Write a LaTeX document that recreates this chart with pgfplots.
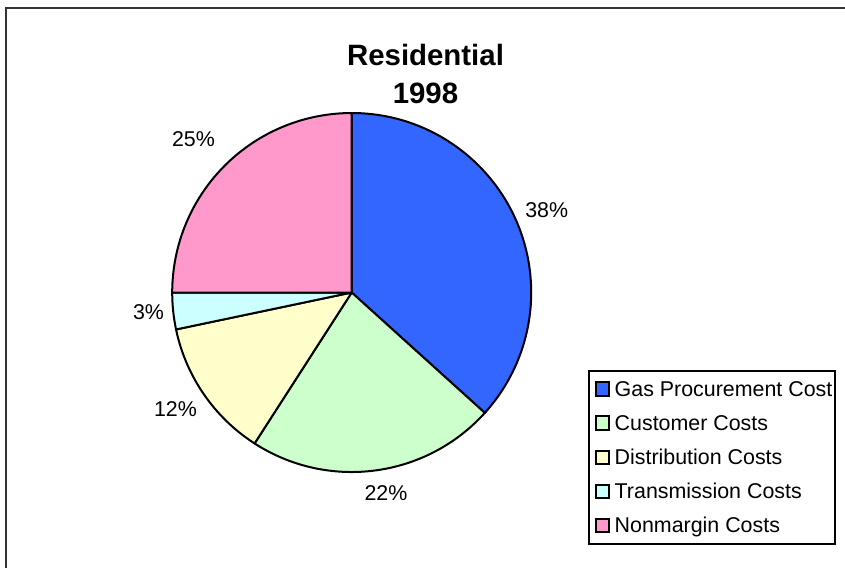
\documentclass[border=0pt]{standalone}
\usepackage{pgfplots}
\pgfplotsset{compat=1.18}
\usepackage{pgfplotstable}
\usepackage{fontspec}
\setmainfont{Liberation Sans}

\definecolor{cGas}{HTML}{3366FF}
\definecolor{cCust}{HTML}{CCFFCC}
\definecolor{cDist}{HTML}{FFFFCC}
\definecolor{cTran}{HTML}{CCFFFF}
\definecolor{cNonm}{HTML}{FF99CC}

% share of the pie as drawn (percent), and the printed label
\pgfplotstableread{
share label
36.7 38
22.4 22
12.6 12
3.3 3
25.0 25
}\piedata

\pgfplotstablegetelem{0}{share}\of\piedata \let\sA\pgfplotsretval
\pgfplotstablegetelem{1}{share}\of\piedata \let\sB\pgfplotsretval
\pgfplotstablegetelem{2}{share}\of\piedata \let\sC\pgfplotsretval
\pgfplotstablegetelem{3}{share}\of\piedata \let\sD\pgfplotsretval
\pgfplotstablegetelem{4}{share}\of\piedata \let\sE\pgfplotsretval
\pgfplotstablegetelem{0}{label}\of\piedata \let\lA\pgfplotsretval
\pgfplotstablegetelem{1}{label}\of\piedata \let\lB\pgfplotsretval
\pgfplotstablegetelem{2}{label}\of\piedata \let\lC\pgfplotsretval
\pgfplotstablegetelem{3}{label}\of\piedata \let\lD\pgfplotsretval
\pgfplotstablegetelem{4}{label}\of\piedata \let\lE\pgfplotsretval
\pgfmathsetmacro\aA{0}
\pgfmathsetmacro\aB{\aA+3.6*\sA}
\pgfmathsetmacro\aC{\aB+3.6*\sB}
\pgfmathsetmacro\aD{\aC+3.6*\sC}
\pgfmathsetmacro\aE{\aD+3.6*\sD}
\pgfmathsetmacro\aF{\aE+3.6*\sE}

\newcommand\pieslice[3]{%
  \filldraw[fill=#3,draw=black,line width=1pt,line join=round]
    (axis cs:351.7,292.5) -- ++({90-#1}:89.75pt)
    arc[start angle={90-#1}, end angle={90-#2}, radius=89.75pt] -- cycle;}
\newcommand\legitem[3]{%
  \draw[fill=#2,line width=1pt] (axis cs:595.5,#1-13.8) rectangle (axis cs:609,#1-0.5);
  \node[anchor=base west,inner sep=0pt,font=\fontsize{10.7}{12}\selectfont] at (axis cs:614.3,#1) {#3};}

\begin{document}
\begin{tikzpicture}
\useasboundingbox (0,0) rectangle (422.5pt,-284pt);
\begin{axis}[
  at={(0,0)}, anchor=north west,
  x=0.5pt, y=0.5pt, y dir=reverse,
  xmin=0, xmax=845, ymin=0, ymax=568,
  scale only axis, hide axis, clip=false]
  % outer frame
  \draw[line width=1pt,black!80] (axis cs:6,568) -- (axis cs:6,8) -- (axis cs:845,8);
  % title
  \node[anchor=base,inner sep=0pt,font=\bfseries\fontsize{14.7}{17}\selectfont] at (axis cs:425.5,65.7) {Residential};
  \node[anchor=base,inner sep=0pt,font=\bfseries\fontsize{14.7}{17}\selectfont] at (axis cs:425.5,103.3) {1998};
  % pie
  \pieslice{\aA}{\aB}{cGas}
  \pieslice{\aB}{\aC}{cCust}
  \pieslice{\aC}{\aD}{cDist}
  \pieslice{\aD}{\aE}{cTran}
  \pieslice{\aE}{\aF}{cNonm}
  % data labels
  \node[anchor=base,inner sep=0pt,font=\fontsize{10.7}{12}\selectfont] at (axis cs:546.7,217) {\lA\%};
  \node[anchor=base,inner sep=0pt,font=\fontsize{10.7}{12}\selectfont] at (axis cs:386,500.3) {\lB\%};
  \node[anchor=base,inner sep=0pt,font=\fontsize{10.7}{12}\selectfont] at (axis cs:175.5,416.3) {\lC\%};
  \node[anchor=base,inner sep=0pt,font=\fontsize{10.7}{12}\selectfont] at (axis cs:148.5,319.3) {\lD\%};
  \node[anchor=base,inner sep=0pt,font=\fontsize{10.7}{12}\selectfont] at (axis cs:193.5,146.3) {\lE\%};
  % legend
  \draw[line width=0.6pt,fill=white] (axis cs:589,371) rectangle (axis cs:835,544);
  \legitem{396}{cGas}{Gas Procurement Cost}
  \legitem{430}{cCust}{Customer Costs}
  \legitem{464.4}{cDist}{Distribution Costs}
  \legitem{498.4}{cTran}{Transmission Costs}
  \legitem{532.4}{cNonm}{Nonmargin Costs}
\end{axis}
\end{tikzpicture}
\end{document}
